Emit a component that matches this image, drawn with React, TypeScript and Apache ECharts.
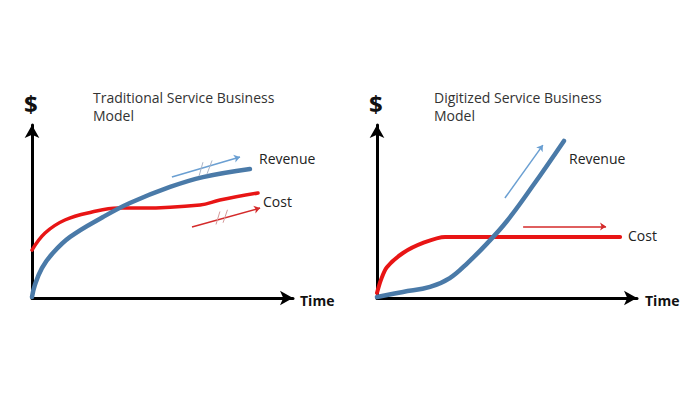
import React, { useEffect, useRef } from "react";
import * as echarts from "echarts";

// Data coordinates: x (time) and y ($) each 0..100 in each panel
const tradRevenue: number[][] = [
  [0, 0.6], [1.1, 7.5], [3.8, 17.3], [8.0, 26.0], [14.6, 35.3], [27.2, 46.8],
  [37.5, 54.9], [52.9, 64.2], [65.5, 69.9], [83.5, 74.6],
];
const tradCost: number[][] = [
  [0, 27.7], [5.0, 37.6], [12.6, 45.1], [23.0, 49.7], [33.0, 52.0], [42.1, 52.0],
  [64.4, 53.8], [72.0, 56.6], [86.6, 60.7],
];
const digRevenue: number[][] = [
  [0, 0.6], [10.0, 3.5], [20.4, 6.4], [28.0, 11.5], [35.0, 20.5], [42.0, 31.0],
  [50.0, 44.5], [60.0, 65.0], [71.9, 90.8],
];
const digCost: number[][] = [
  [0, 2.9], [1.5, 10.4], [3.8, 17.8], [10.0, 26.0], [17.7, 31.8], [26.2, 35.3],
  [40, 35.3], [60, 35.3], [93.5, 35.3],
];
// trend arrows [start, end]
const tradRevArrow: number[][] = [[53.6, 69.9], [79.7, 81.5]];
const tradCostArrow: number[][] = [[61.3, 41.0], [87.4, 52.0]];
const tradRevTicks: number[][][] = [
  [[64.0, 70.5], [65.5, 78.5]],
  [[67.0, 71.5], [69.0, 79.5]],
];
const tradCostTicks: number[][][] = [
  [[70.5, 42.5], [72.0, 50.0]],
  [[73.2, 43.5], [74.9, 51.0]],
];
const digRevArrow: number[][] = [[49.2, 57.8], [63.8, 88.4]];
const digCostArrow: number[][] = [[56.2, 41.3], [88.1, 41.3]];

const titles = ["Traditional Service Business\nModel", "Digitized Service Business\nModel"];
const seriesNames = ["Revenue", "Cost"];
const axisNames = ["$", "Time"];

const BLUE = "#4a7aa8";
const RED = "#e81515";
const LIGHT_BLUE = "#6a9fd2";
const ARROW_RED = "#d42a2a";
const FONT = "'Open Sans', 'Noto Sans', sans-serif";

export default function App() {
  const ref = useRef<HTMLDivElement>(null);
  useEffect(() => {
    document.body.style.margin = "0";
    const chart = echarts.init(ref.current!, null, { renderer: "svg" });
    const grids = [
      { left: 32, top: 125, width: 261, height: 173 },
      { left: 377, top: 125, width: 260, height: 173 },
    ];
    const axisCommon = {
      type: "value",
      min: 0,
      max: 100,
      splitLine: { show: false },
      axisTick: { show: false },
      axisLabel: { show: false },
      axisLine: {
        show: true,
        symbol: ["none", "arrow"],
        symbolSize: [11, 13],
        symbolOffset: [0, 0],
        lineStyle: { color: "#000", width: 3 },
      },
    };
    const line = (data: number[][], idx: number, color: string, width: number, smooth: number | boolean, name: string) => ({
      type: "line",
      name,
      xAxisIndex: idx,
      yAxisIndex: idx,
      data,
      smooth,
      symbol: "none",
      lineStyle: { color, width, cap: "round" },
      z: 3,
    });
    const arrow = (coords: number[][], idx: number, color: string, width: number) => ({
      type: "lines",
      coordinateSystem: "cartesian2d",
      xAxisIndex: idx,
      yAxisIndex: idx,
      symbol: ["none", "arrow"],
      symbolSize: 6,
      lineStyle: { color, width, opacity: 1 },
      data: [{ coords }],
      z: 4,
    });
    const ticks = (segs: number[][][], idx: number, color: string) => ({
      type: "lines",
      coordinateSystem: "cartesian2d",
      xAxisIndex: idx,
      yAxisIndex: idx,
      symbol: ["none", "none"],
      lineStyle: { color, width: 1, opacity: 1 },
      data: segs.map((c) => ({ coords: c })),
      z: 4,
    });
    const txt = (text: string, left: number, top: number, size: number, bold = false, color = "#222") => ({
      type: "text",
      left,
      top,
      style: { text, fontSize: size, fontWeight: bold ? "bold" : "normal", fill: color, fontFamily: FONT, lineHeight: 18 },
    });
    chart.setOption({
      animation: false,
      backgroundColor: "#fff",
      grid: grids,
      xAxis: [
        { ...axisCommon, gridIndex: 0 },
        { ...axisCommon, gridIndex: 1 },
      ],
      yAxis: [
        { ...axisCommon, gridIndex: 0 },
        { ...axisCommon, gridIndex: 1 },
      ],
      series: [
        line(tradCost, 0, RED, 3.5, 0.4, seriesNames[1]),
        line(tradRevenue, 0, BLUE, 4.5, 0.4, seriesNames[0]),
        line(digCost, 1, RED, 4, 0.3, seriesNames[1]),
        line(digRevenue, 1, BLUE, 4.5, 0.4, seriesNames[0]),
        arrow(tradRevArrow, 0, LIGHT_BLUE, 1.5),
        arrow(tradCostArrow, 0, ARROW_RED, 1.5),
        ticks(tradRevTicks, 0, "#a9b4c8"),
        ticks(tradCostTicks, 0, "#d49a9a"),
        arrow(digRevArrow, 1, LIGHT_BLUE, 1.5),
        arrow(digCostArrow, 1, ARROW_RED, 1.5),
      ],
      graphic: [
        txt(titles[0], 93, 88, 14, false, "#333"),
        txt(titles[1], 434, 88, 14, false, "#333"),
        txt(axisNames[0], 24, 91, 24, true, "#111"),
        txt(axisNames[0], 369, 91, 24, true, "#111"),
        txt(axisNames[1], 300, 291, 14, true, "#111"),
        txt(axisNames[1], 645, 291, 14, true, "#111"),
        txt(seriesNames[0], 259, 149, 14, false, "#222"),
        txt(seriesNames[1], 263, 192, 14, false, "#222"),
        txt(seriesNames[0], 569, 149, 14, false, "#222"),
        txt(seriesNames[1], 628, 226, 14, false, "#222"),
      ],
    });
    return () => chart.dispose();
  }, []);
  return <div ref={ref} style={{ position: "fixed", left: 0, top: 0, width: 698, height: 400 }} />;
}
